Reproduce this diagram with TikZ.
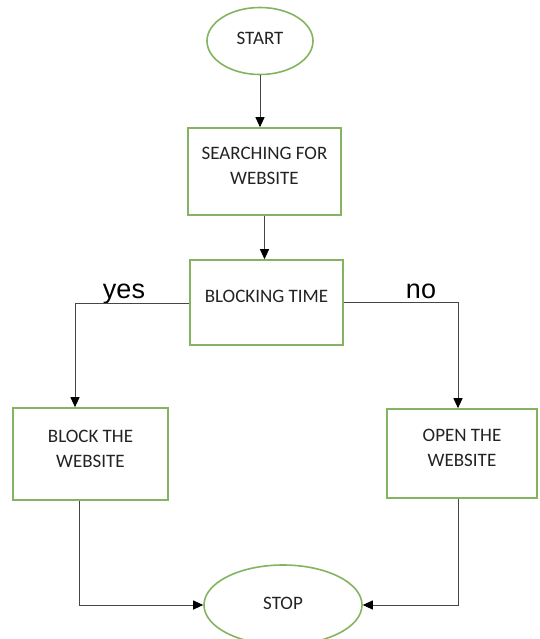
\documentclass[tikz,border=0pt]{standalone}
\usepackage{fontspec}
\setmainfont{Carlito}
\newfontfamily\arialf{Liberation Sans}
\usetikzlibrary{shapes.geometric,arrows.meta}
\definecolor{boxgreen}{RGB}{132,180,96}
\definecolor{linegray}{RGB}{70,70,70}
\definecolor{txt}{RGB}{35,35,35}
\begin{document}
\begin{tikzpicture}[x=1pt,y=-1pt,
  stepbox/.style={rectangle,draw=boxgreen,line width=1.6pt,fill=white,align=center,
    inner sep=0pt,font=\fontsize{19}{25}\selectfont,text=txt},
  term/.style={ellipse,draw=boxgreen,line width=1.6pt,fill=white,align=center,
    inner sep=0pt,font=\fontsize{19}{25}\selectfont,text=txt},
  conn/.style={draw=linegray,line width=1pt,-{Triangle[length=10pt,width=9pt,fill=black,color=black]}},
  lbl/.style={font=\arialf\fontsize{27}{30}\selectfont,text=black,inner sep=0pt}]
\useasboundingbox (0,0) rectangle (539,639);
\clip (0,0) rectangle (539,639);
\fill[white] (0,0) rectangle (539,639);

\node[term,minimum width=106pt,minimum height=67pt,text depth=6pt] (start) at (260,41) {START};
\node[stepbox,minimum width=153pt,minimum height=87pt,text depth=12pt] (search) at (264.5,171.5) {SEARCHING FOR\\WEBSITE};
\node[stepbox,minimum width=153pt,minimum height=85pt,text depth=13pt] (blocking) at (266.5,302.5) {BLOCKING TIME};
\node[stepbox,minimum width=155pt,minimum height=92pt,text depth=10pt] (block) at (90.5,454) {BLOCK THE\\WEBSITE};
\node[stepbox,minimum width=150pt,minimum height=89pt,text depth=12pt] (open) at (462,453.5) {OPEN THE\\WEBSITE};
\node[term,minimum width=158pt,minimum height=80pt,text depth=4pt] (stop) at (283,605) {STOP};

\node[lbl,anchor=base] (yes) at (124,298) {yes};
\node[lbl,anchor=base] (no) at (421,298) {no};

\coordinate (yesturn) at (75,303);
\coordinate (noturn) at (458,302);
\coordinate (bl) at (79,605);
\coordinate (br) at (458,605);

\draw[conn] (start.south) -- (start.south |- search.north);
\draw[conn] (search.south) -- (search.south |- blocking.north);
\draw[conn] (blocking.west |- yesturn) -- (yesturn) -- (yesturn |- block.north);
\draw[conn] (blocking.east |- noturn) -- (noturn) -- (noturn |- open.north);
\draw[conn] (block.south -| bl) -- (bl) -- (stop.west);
\draw[conn] (open.south -| br) -- (br) -- (stop.east);
\end{tikzpicture}
\end{document}
